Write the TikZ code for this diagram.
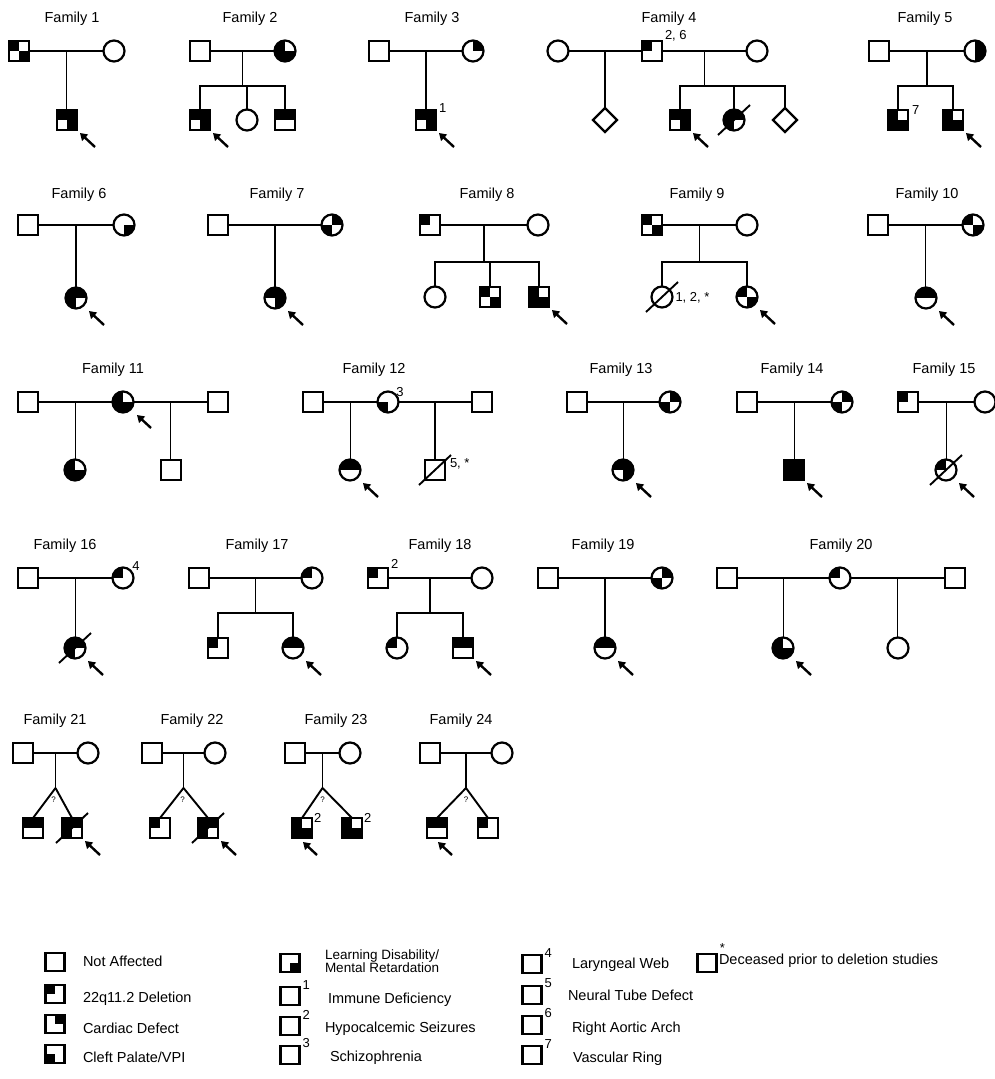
\documentclass[tikz,border=0pt]{standalone}
\usepackage{fontspec}
\setmainfont{Liberation Sans}
\usetikzlibrary{calc,arrows.meta,shapes.geometric}
\newcommand\probarrow[1]{\draw[arr] ([shift={(28,27)}]#1.center) -- ([shift={(13,13)}]#1.center);}
\newcommand\deadmark[1]{\draw[slash] ([shift={(-16,15)}]#1.center) -- ([shift={(16,-15)}]#1.center);}
\begin{document}
\begin{tikzpicture}[x=1pt,y=-1pt,
  every node/.style={inner sep=0pt, outer sep=0pt},
  ln/.style={line width=1.9pt},
  M/.style={draw, rectangle, minimum size=20pt, line width=2.2pt},
  F/.style={draw, circle, minimum size=21pt, line width=2.2pt},
  U/.style={draw, diamond, minimum size=24pt, line width=2.2pt},
  LM/.style={draw, rectangle, minimum width=19pt, minimum height=18pt, line width=2.4pt},
  pat/.style n args={4}{path picture={
      \ifnum#1=1 \fill (path picture bounding box.center) rectangle (path picture bounding box.north west);\fi
      \ifnum#2=1 \fill (path picture bounding box.center) rectangle (path picture bounding box.north east);\fi
      \ifnum#3=1 \fill (path picture bounding box.center) rectangle (path picture bounding box.south west);\fi
      \ifnum#4=1 \fill (path picture bounding box.center) rectangle (path picture bounding box.south east);\fi
  }},
  ttl/.style={font=\fontsize{14.5}{16}\selectfont},
  sup/.style={font=\fontsize{13}{15}\selectfont},
  qm/.style={font=\fontsize{8}{9}\selectfont},
  leg/.style={font=\fontsize{14.5}{15}\selectfont, anchor=west, align=left},
  arr/.style={line width=2.4pt, -{Triangle[length=7pt,width=8.5pt]}},
  slash/.style={line width=1.9pt},
]
\fill[white] (0,0) rectangle (995,1079);
\useasboundingbox (0,0) rectangle (995,1079);

% ---------------- Row 1 ----------------
% Family 1
\node[ttl] (t1) at (72,19) {Family 1};
\node[M,pat={1}{0}{0}{1}] (a1) at (19,51) {};
\node[F] (b1) at (114,51) {};
\node[M,pat={1}{1}{0}{1}] (c1) at (67,120) {};
\draw[ln] (a1) -- (b1);
\coordinate (m1) at ($(a1)!.5!(b1)$);
\draw[ln] (m1) -- (m1 |- c1.north);
\probarrow{c1}

% Family 2
\node[ttl] (t2) at (250,19) {Family 2};
\node[M] (a2) at (200,51) {};
\node[F,pat={1}{0}{1}{1}] (b2) at (285,51) {};
\node[M,pat={1}{1}{0}{1}] (c2) at (200,120) {};
\node[F] (d2) at (247,120) {};
\node[M,pat={1}{1}{0}{0}] (e2) at (285,120) {};
\draw[ln] (a2) -- (b2);
\coordinate (m2) at ($(a2)!.5!(b2)$);
\draw[ln] (m2) -- ++(0,35) coordinate (s2);
\draw[ln] (c2) |- (s2) -| (e2);
\draw[ln] (d2) -- (d2 |- s2);
\probarrow{c2}

% Family 3
\node[ttl] (t3) at (432,19) {Family 3};
\node[M] (a3) at (379,51) {};
\node[F,pat={0}{1}{0}{0}] (b3) at (473,51) {};
\node[M,pat={1}{1}{0}{1}] (c3) at (426,120) {};
\draw[ln] (a3) -- (b3);
\coordinate (m3) at ($(a3)!.5!(b3)$);
\draw[ln] (m3) -- (m3 |- c3.north);
\node[sup,anchor=west] (l3) at ([shift={(3,-2)}]c3.north east) {1};
\probarrow{c3}

% Family 4
\node[ttl] (t4) at (669,19) {Family 4};
\node[F] (a4) at (558,51) {};
\node[M,pat={1}{0}{0}{0}] (b4) at (652,51) {};
\node[F] (c4) at (757,51) {};
\node[sup,anchor=south west] (l4) at ([shift={(3,0)}]b4.north east) {2, 6};
\draw[ln] (a4) -- (b4);
\draw[ln] (b4) -- (c4);
\coordinate (m4a) at ($(a4)!.5!(b4)$);
\coordinate (m4b) at ($(b4)!.5!(c4)$);
\node[U] (d4) at (605,120) {};
\draw[ln] (m4a) -- (m4a |- d4.north);
\node[M,pat={1}{1}{0}{1}] (e4) at (680,120) {};
\node[F,pat={1}{1}{1}{0}] (f4) at (734,120) {};
\node[U] (g4) at (785,120) {};
\draw[ln] (m4b) -- ++(0,35) coordinate (s4);
\draw[ln] (e4) |- (s4) -| (g4);
\draw[ln] (f4) -- (f4 |- s4);
\deadmark{f4}
\probarrow{e4}

% Family 5
\node[ttl] (t5) at (925,19) {Family 5};
\node[M] (a5) at (879,51) {};
\node[F,pat={0}{1}{0}{1}] (b5) at (975,51) {};
\node[M,pat={1}{0}{1}{1}] (c5) at (898,120) {};
\node[M,pat={1}{0}{1}{1}] (d5) at (953,120) {};
\node[sup,anchor=west] (l5) at ([shift={(4,0)}]c5.north east) {7};
\draw[ln] (a5) -- (b5);
\coordinate (m5) at ($(a5)!.5!(b5)$);
\draw[ln] (m5) -- ++(0,35) coordinate (s5);
\draw[ln] (c5) |- (s5) -| (d5);
\probarrow{d5}

% ---------------- Row 2 ----------------
% Family 6
\node[ttl] (t6) at (79,195) {Family 6};
\node[M] (a6) at (28,225) {};
\node[F,pat={0}{0}{0}{1}] (b6) at (124,225) {};
\node[F,pat={1}{1}{1}{0}] (c6) at (76,298) {};
\draw[ln] (a6) -- (b6);
\coordinate (m6) at ($(a6)!.5!(b6)$);
\draw[ln] (m6) -- (m6 |- c6.north);
\probarrow{c6}

% Family 7
\node[ttl] (t7) at (277,195) {Family 7};
\node[M] (a7) at (218,225) {};
\node[F,pat={0}{1}{1}{0}] (b7) at (332,225) {};
\node[F,pat={1}{1}{0}{1}] (c7) at (275,298) {};
\draw[ln] (a7) -- (b7);
\coordinate (m7) at ($(a7)!.5!(b7)$);
\draw[ln] (m7) -- (m7 |- c7.north);
\probarrow{c7}

% Family 8
\node[ttl] (t8) at (487,195) {Family 8};
\node[M,pat={1}{0}{0}{0}] (a8) at (430,225) {};
\node[F] (b8) at (538,225) {};
\node[F] (c8) at (435,297) {};
\node[M,pat={1}{0}{0}{1}] (d8) at (490,297) {};
\node[M,pat={1}{0}{1}{1}] (e8) at (539,297) {};
\draw[ln] (a8) -- (b8);
\coordinate (m8) at ($(a8)!.5!(b8)$);
\draw[ln] (m8) -- ++(0,37) coordinate (s8);
\draw[ln] (c8) |- (s8) -| (e8);
\draw[ln] (d8) -- (d8 |- s8);
\probarrow{e8}

% Family 9
\node[ttl] (t9) at (697,195) {Family 9};
\node[M,pat={1}{0}{0}{1}] (a9) at (652,225) {};
\node[F] (b9) at (747,225) {};
\node[F] (c9) at (662,297) {};
\node[F,pat={1}{0}{0}{1}] (d9) at (747,297) {};
\node[sup,anchor=west] (l9) at ([shift={(3,1)}]c9.east) {1, 2, *};
\draw[ln] (a9) -- (b9);
\coordinate (m9) at ($(a9)!.5!(b9)$);
\draw[ln] (m9) -- ++(0,37) coordinate (s9);
\draw[ln] (c9) |- (s9) -| (d9);
\deadmark{c9}
\probarrow{d9}

% Family 10
\node[ttl] (t10) at (927,195) {Family 10};
\node[M] (a10) at (878,225) {};
\node[F,pat={1}{0}{0}{1}] (b10) at (973,225) {};
\node[F,pat={1}{1}{0}{0}] (c10) at (926,298) {};
\draw[ln] (a10) -- (b10);
\coordinate (m10) at ($(a10)!.5!(b10)$);
\draw[ln] (m10) -- (m10 |- c10.north);
\probarrow{c10}

% ---------------- Row 3 ----------------
% Family 11
\node[ttl] (t11) at (113,370) {Family 11};
\node[M] (a11) at (28,402) {};
\node[F,pat={1}{0}{1}{1}] (b11) at (123,402) {};
\node[M] (c11) at (218,402) {};
\node[F,pat={1}{0}{1}{1}] (d11) at (75,470) {};
\node[M] (e11) at (171,470) {};
\draw[ln] (a11) -- (b11);
\draw[ln] (b11) -- (c11);
\coordinate (m11a) at ($(a11)!.5!(b11)$);
\coordinate (m11b) at ($(b11)!.5!(c11)$);
\draw[ln] (m11a) -- (m11a |- d11.north);
\draw[ln] (m11b) -- (m11b |- e11.north);
\draw[arr] ([shift={(28,26)}]b11.center) -- ([shift={(14,13)}]b11.center);

% Family 12
\node[ttl] (t12) at (374,370) {Family 12};
\node[M] (a12) at (313,402) {};
\node[F,pat={0}{0}{1}{0}] (b12) at (388,402) {};
\node[M] (c12) at (482,402) {};
\node[sup,anchor=south west] (l12) at ([shift={(1,2)}]b12.north east) {3};
\node[F,pat={1}{1}{0}{0}] (d12) at (350,470) {};
\node[M] (e12) at (435,470) {};
\node[sup,anchor=west] (l12b) at ([shift={(5,4)}]e12.north east) {5, *};
\draw[ln] (a12) -- (b12);
\draw[ln] (b12) -- (c12);
\coordinate (m12a) at ($(a12)!.5!(b12)$);
\coordinate (m12b) at ($(b12)!.5!(c12)$);
\draw[ln] (m12a) -- (m12a |- d12.north);
\draw[ln] (m12b) -- (m12b |- e12.north);
\deadmark{e12}
\probarrow{d12}

% Family 13
\node[ttl] (t13) at (621,370) {Family 13};
\node[M] (a13) at (577,402) {};
\node[F,pat={0}{1}{1}{0}] (b13) at (670,402) {};
\node[F,pat={1}{1}{0}{1}] (c13) at (623,470) {};
\draw[ln] (a13) -- (b13);
\coordinate (m13) at ($(a13)!.5!(b13)$);
\draw[ln] (m13) -- (m13 |- c13.north);
\probarrow{c13}

% Family 14
\node[ttl] (t14) at (792,370) {Family 14};
\node[M] (a14) at (747,402) {};
\node[F,pat={0}{1}{1}{0}] (b14) at (842,402) {};
\node[M,pat={1}{1}{1}{1}] (c14) at (794,470) {};
\draw[ln] (a14) -- (b14);
\coordinate (m14) at ($(a14)!.5!(b14)$);
\draw[ln] (m14) -- (m14 |- c14.north);
\probarrow{c14}

% Family 15
\node[ttl] (t15) at (944,370) {Family 15};
\node[M,pat={1}{0}{0}{0}] (a15) at (908,402) {};
\node[F] (b15) at (985,402) {};
\node[F,pat={1}{0}{0}{0}] (c15) at (946,470) {};
\draw[ln] (a15) -- (b15);
\coordinate (m15) at ($(a15)!.5!(b15)$);
\draw[ln] (m15) -- (m15 |- c15.north);
\deadmark{c15}
\probarrow{c15}

% ---------------- Row 4 ----------------
% Family 16
\node[ttl] (t16) at (65,546) {Family 16};
\node[M] (a16) at (28,578) {};
\node[F,pat={1}{0}{0}{0}] (b16) at (123,578) {};
\node[sup,anchor=south west] (l16) at ([shift={(2,0)}]b16.north east) {4};
\node[F,pat={1}{1}{1}{0}] (c16) at (75,648) {};
\draw[ln] (a16) -- (b16);
\coordinate (m16) at ($(a16)!.5!(b16)$);
\draw[ln] (m16) -- (m16 |- c16.north);
\deadmark{c16}
\probarrow{c16}

% Family 17
\node[ttl] (t17) at (257,546) {Family 17};
\node[M] (a17) at (199,578) {};
\node[F,pat={1}{0}{0}{0}] (b17) at (312,578) {};
\node[M,pat={1}{0}{0}{0}] (c17) at (218,648) {};
\node[F,pat={1}{1}{0}{0}] (d17) at (293,648) {};
\draw[ln] (a17) -- (b17);
\coordinate (m17) at ($(a17)!.5!(b17)$);
\draw[ln] (m17) -- ++(0,35) coordinate (s17);
\draw[ln] (c17) |- (s17) -| (d17);
\probarrow{d17}

% Family 18
\node[ttl] (t18) at (440,546) {Family 18};
\node[M,pat={1}{0}{0}{0}] (a18) at (378,578) {};
\node[sup,anchor=south west] (l18) at ([shift={(3,0)}]a18.north east) {2};
\node[F] (b18) at (482,578) {};
\node[F,pat={1}{0}{0}{0}] (c18) at (397,648) {};
\node[M,pat={1}{1}{0}{0}] (d18) at (463,648) {};
\draw[ln] (a18) -- (b18);
\coordinate (m18) at ($(a18)!.5!(b18)$);
\draw[ln] (m18) -- ++(0,35) coordinate (s18);
\draw[ln] (c18) |- (s18) -| (d18);
\probarrow{d18}

% Family 19
\node[ttl] (t19) at (603,546) {Family 19};
\node[M] (a19) at (548,578) {};
\node[F,pat={0}{1}{1}{0}] (b19) at (662,578) {};
\node[F,pat={1}{1}{0}{0}] (c19) at (605,648) {};
\draw[ln] (a19) -- (b19);
\coordinate (m19) at ($(a19)!.5!(b19)$);
\draw[ln] (m19) -- (m19 |- c19.north);
\probarrow{c19}

% Family 20
\node[ttl] (t20) at (841,546) {Family 20};
\node[M] (a20) at (727,578) {};
\node[F,pat={1}{0}{0}{0}] (b20) at (840,578) {};
\node[M] (c20) at (955,578) {};
\node[F,pat={1}{0}{1}{1}] (d20) at (783,648) {};
\node[F] (e20) at (898,648) {};
\draw[ln] (a20) -- (b20);
\draw[ln] (b20) -- (c20);
\coordinate (m20a) at ($(a20)!.5!(b20)$);
\coordinate (m20b) at ($(b20)!.5!(c20)$);
\draw[ln] (m20a) -- (m20a |- d20.north);
\draw[ln] (m20b) -- (m20b |- e20.north);
\probarrow{d20}

% ---------------- Row 5 ----------------
% Family 21
\node[ttl] (t21) at (55,721) {Family 21};
\node[M] (a21) at (23,753) {};
\node[F] (b21) at (88,753) {};
\node[M,pat={1}{1}{0}{0}] (c21) at (33,828) {};
\node[M,pat={1}{1}{1}{0}] (d21) at (72,828) {};
\draw[ln] (a21) -- (b21);
\coordinate (m21) at ($(a21)!.5!(b21)$);
\draw[ln] (m21) -- ++(0,35) coordinate (s21);
\draw[ln] (s21) -- (c21.north);
\draw[ln] (s21) -- (d21.north);
\node[qm] (q21) at ([shift={(-2,12)}]s21) {?};
\deadmark{d21}
\probarrow{d21}

% Family 22
\node[ttl] (t22) at (192,721) {Family 22};
\node[M] (a22) at (152,753) {};
\node[F] (b22) at (215,753) {};
\node[M,pat={1}{0}{0}{0}] (c22) at (160,828) {};
\node[M,pat={1}{1}{1}{0}] (d22) at (208,828) {};
\draw[ln] (a22) -- (b22);
\coordinate (m22) at ($(a22)!.5!(b22)$);
\draw[ln] (m22) -- ++(0,35) coordinate (s22);
\draw[ln] (s22) -- (c22.north);
\draw[ln] (s22) -- (d22.north);
\node[qm] (q22) at ([shift={(-1,12)}]s22) {?};
\deadmark{d22}
\probarrow{d22}

% Family 23
\node[ttl] (t23) at (336,721) {Family 23};
\node[M] (a23) at (295,753) {};
\node[F] (b23) at (350,753) {};
\node[M,pat={1}{0}{1}{1}] (c23) at (302,828) {};
\node[M,pat={1}{0}{1}{1}] (d23) at (352,828) {};
\node[sup,anchor=south west] (l23a) at ([shift={(2,4)}]c23.north east) {2};
\node[sup,anchor=south west] (l23b) at ([shift={(2,4)}]d23.north east) {2};
\draw[ln] (a23) -- (b23);
\coordinate (m23) at ($(a23)!.5!(b23)$);
\draw[ln] (m23) -- ++(0,35) coordinate (s23);
\draw[ln] (s23) -- (c23.north);
\draw[ln] (s23) -- (d23.north);
\node[qm] (q23) at ([shift={(0,12)}]s23) {?};
\draw[arr] ([shift={(15,27)}]c23.center) -- ([shift={(1,14)}]c23.center);

% Family 24
\node[ttl] (t24) at (461,721) {Family 24};
\node[M] (a24) at (430,753) {};
\node[F] (b24) at (502,753) {};
\node[M,pat={1}{1}{0}{0}] (c24) at (437,828) {};
\node[M,pat={1}{0}{0}{0}] (d24) at (488,828) {};
\draw[ln] (a24) -- (b24);
\coordinate (m24) at ($(a24)!.5!(b24)$);
\draw[ln] (m24) -- ++(0,35) coordinate (s24);
\draw[ln] (s24) -- (c24.north);
\draw[ln] (s24) -- (d24.north);
\node[qm] (q24) at ([shift={(0,12)}]s24) {?};
\draw[arr] ([shift={(15,27)}]c24.center) -- ([shift={(1,14)}]c24.center);

% ---------------- Legend ----------------
\node[LM] (k1) at (55,962) {};
\node[leg] (k1t) at (83,961) {Not Affected};
\node[LM,pat={1}{0}{0}{0}] (k2) at (55,994) {};
\node[leg] (k2t) at (83,999) {22q11.2 Deletion};
\node[LM,pat={0}{1}{0}{0}] (k3) at (55,1024) {};
\node[leg] (k3t) at (83,1028) {Cardiac Defect};
\node[LM,pat={0}{0}{1}{0}] (k4) at (55,1054) {};
\node[leg] (k4t) at (83,1057) {Cleft Palate/VPI};

\node[LM,pat={0}{0}{0}{1}] (k5) at (290,963) {};
\node[leg,font=\fontsize{13.5}{12}\selectfont] (k5t) at (325,961) {Learning Disability/\\Mental Retardation};
\node[LM] (k6) at (290,996) {};
\node[sup,anchor=south west] (k6s) at ([shift={(3,2)}]k6.north east) {1};
\node[leg] (k6t) at (328,1000) {Immune Deficiency};
\node[LM] (k7) at (290,1026) {};
\node[sup,anchor=south west] (k7s) at ([shift={(3,2)}]k7.north east) {2};
\node[leg] (k7t) at (325,1029) {Hypocalcemic Seizures};
\node[LM] (k8) at (290,1055) {};
\node[sup,anchor=south west] (k8s) at ([shift={(3,2)}]k8.north east) {3};
\node[leg] (k8t) at (330,1058) {Schizophrenia};

\node[LM] (k9) at (532,964) {};
\node[sup,anchor=south west] (k9s) at ([shift={(3,2)}]k9.north east) {4};
\node[leg] (k9t) at (572,965) {Laryngeal Web};
\node[LM] (k10) at (532,995) {};
\node[sup,anchor=south west] (k10s) at ([shift={(3,2)}]k10.north east) {5};
\node[leg] (k10t) at (568,995) {Neural Tube Defect};
\node[LM] (k11) at (532,1025) {};
\node[sup,anchor=south west] (k11s) at ([shift={(3,2)}]k11.north east) {6};
\node[leg] (k11t) at (572,1029) {Right Aortic Arch};
\node[LM] (k12) at (532,1055) {};
\node[sup,anchor=south west] (k12s) at ([shift={(3,2)}]k12.north east) {7};
\node[leg] (k12t) at (573,1059) {Vascular Ring};

\node[LM] (k13) at (707,963) {};
\node[sup,anchor=south] (k13s) at ([shift={(6,-2)}]k13.north east) {*};
\node[leg] (k13t) at (719,961) {Deceased prior to deletion studies};
\end{tikzpicture}
\end{document}
